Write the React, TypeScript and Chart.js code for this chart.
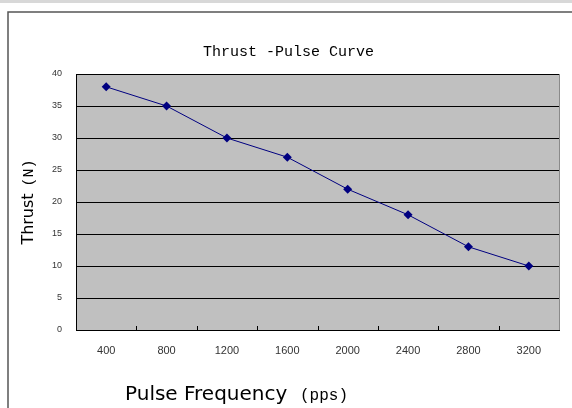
import { useEffect, useRef } from 'react';
import { Chart, registerables } from 'chart.js';

Chart.register(...registerables);

const categories = ['400', '800', '1200', '1600', '2000', '2400', '2800', '3200'];
const thrust = [38, 35, 30, 27, 22, 18, 13, 10];
const yMin = 0;
const yMax = 40;
const yStep = 5;
const chartTitle = 'Thrust -Pulse Curve';
const yTitleMain = 'Thrust';
const yTitleUnit = '(N)';
const xTitleMain = 'Pulse Frequency';
const xTitleUnit = '(pps)';

const decorPlugin = {
  id: 'decor',
  beforeDraw(chart: any) {
    const { ctx, width, height, chartArea } = chart;
    ctx.save();
    ctx.fillStyle = '#ffffff';
    ctx.fillRect(0, 0, width, height);
    // top light strip
    ctx.fillStyle = '#d8d8d8';
    ctx.fillRect(0, 0, width, 3);
    // outer frame
    ctx.strokeStyle = '#555555';
    ctx.lineWidth = 1.5;
    ctx.beginPath();
    ctx.moveTo(8, height + 2);
    ctx.lineTo(8, 12);
    ctx.lineTo(width + 2, 12);
    ctx.stroke();
    // plot background
    ctx.fillStyle = '#c0c0c0';
    ctx.fillRect(chartArea.left, chartArea.top, chartArea.right - chartArea.left, chartArea.bottom - chartArea.top);
    ctx.strokeStyle = '#8a8a8a';
    ctx.lineWidth = 1;
    ctx.beginPath();
    ctx.moveTo(chartArea.right + 0.5, chartArea.top);
    ctx.lineTo(chartArea.right + 0.5, chartArea.bottom);
    ctx.stroke();
    ctx.restore();
  },
  afterDraw(chart: any) {
    const { ctx, chartArea } = chart;
    const xs = chart.scales.x;
    ctx.save();
    // inward tick marks between categories
    ctx.strokeStyle = '#000000';
    ctx.lineWidth = 1;
    for (let i = 1; i < categories.length; i++) {
      const px = Math.round((xs.getPixelForValue(i - 1) + xs.getPixelForValue(i)) / 2) + 0.5;
      ctx.beginPath();
      ctx.moveTo(px, chartArea.bottom);
      ctx.lineTo(px, chartArea.bottom - 4);
      ctx.stroke();
    }
    // chart title
    ctx.fillStyle = '#000000';
    ctx.textBaseline = 'middle';
    ctx.textAlign = 'left';
    ctx.font = '15px "Liberation Mono"';
    ctx.fillText(chartTitle, 203, 52);
    // x axis title
    ctx.textBaseline = 'alphabetic';
    ctx.font = '20px "DejaVu Sans"';
    ctx.fillText(xTitleMain, 125, 400);
    ctx.font = '16px "Liberation Mono"';
    ctx.fillText(xTitleUnit, 300, 400);
    // y axis title
    ctx.translate(33, 202);
    ctx.rotate(-Math.PI / 2);
    ctx.font = '16px "DejaVu Sans"';
    const w1 = ctx.measureText(yTitleMain).width;
    ctx.font = '15px "Liberation Mono"';
    const w2 = ctx.measureText(yTitleUnit).width;
    const gap = 7;
    const total = w1 + gap + w2;
    ctx.font = '16px "DejaVu Sans"';
    ctx.fillText(yTitleMain, -total / 2, 0);
    ctx.font = '15px "Liberation Mono"';
    ctx.fillText(yTitleUnit, -total / 2 + w1 + gap, 0);
    ctx.restore();
  },
};

export default function App() {
  const ref = useRef<HTMLCanvasElement>(null);
  useEffect(() => {
    if (!ref.current) return;
    const chart = new Chart(ref.current, {
      type: 'line',
      data: {
        labels: categories,
        datasets: [
          {
            data: thrust,
            borderColor: '#000080',
            backgroundColor: '#000080',
            borderWidth: 1,
            pointStyle: 'rectRot',
            pointRadius: 4.5,
            pointBorderWidth: 0,
            tension: 0,
            fill: false,
          },
        ],
      },
      options: {
        responsive: false,
        animation: false,
        layout: { padding: { top: 74, right: 13, left: 0, bottom: 0 } },
        plugins: { legend: { display: false }, title: { display: false }, tooltip: { enabled: false } },
        scales: {
          x: {
            type: 'category',
            offset: true,
            afterFit: (s: any) => { s.height = 78; },
            grid: { display: false, offset: true },
            border: { display: true, color: '#000000', width: 1 },
            ticks: { padding: 6, color: '#333333', font: { family: 'Liberation Sans', size: 11 }, maxRotation: 0 },
          },
          y: {
            min: yMin,
            max: yMax,
            afterFit: (s: any) => { s.width = 76; },
            grid: { color: '#000000', lineWidth: 1, drawTicks: false },
            border: { display: true, color: '#000000', width: 1 },
            ticks: { stepSize: yStep, padding: 14, color: '#333333', font: { family: 'Liberation Sans', size: 9 } },
          },
        },
      },
      plugins: [decorPlugin],
    });
    return () => chart.destroy();
  }, []);
  return (
    <div style={{ position: 'absolute', left: 0, top: 0, width: 572, height: 408 }}>
      <canvas ref={ref} width={572} height={408} style={{ display: 'block' }} />
    </div>
  );
}
